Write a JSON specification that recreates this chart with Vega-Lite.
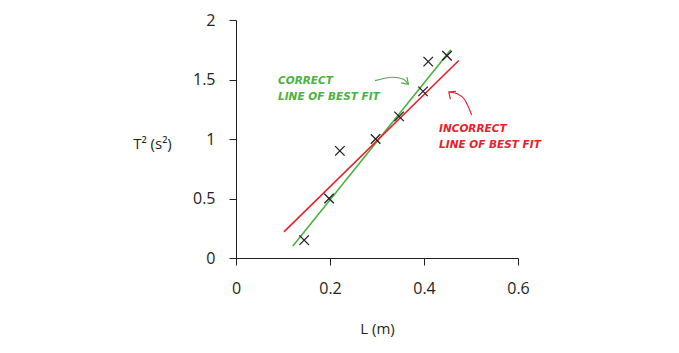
{
  "$schema": "https://vega.github.io/schema/vega-lite/v6.json",
  "autosize": "none",
  "width": 282,
  "height": 238,
  "padding": {"left": 236, "top": 20, "right": 161, "bottom": 95},
  "background": "white",
  "config": {"view": {"stroke": null}},
  "encoding": {
    "x": {"type": "quantitative", "scale": {"domain": [0, 0.6], "nice": false, "zero": false}},
    "y": {"type": "quantitative", "scale": {"domain": [0, 2], "nice": false, "zero": false}}
  },
  "layer": [
    {
      "data": {"values": [
        {"fit": "correct", "L": 0.121, "T2": 0.10},
        {"fit": "correct", "L": 0.457, "T2": 1.75},
        {"fit": "incorrect", "L": 0.102, "T2": 0.22},
        {"fit": "incorrect", "L": 0.474, "T2": 1.66}
      ]},
      "mark": {"type": "line", "strokeWidth": 1.6},
      "encoding": {
        "x": {"field": "L", "type": "quantitative",
          "axis": {"title": "L (m)", "values": [0, 0.2, 0.4, 0.6], "labelExpr": "datum.value + ''", "grid": false, "domainColor": "#231f20", "tickColor": "#231f20", "tickSize": 7, "labelPadding": 15, "labelFontSize": 16, "labelFont": "Open Sans", "labelColor": "#231f20", "titleFont": "Open Sans", "titleFontSize": 15, "titleFontWeight": "normal", "titleColor": "#231f20", "titleY": 70, "titleBaseline": "middle", "labelFlush": false}},
        "y": {"field": "T2", "type": "quantitative",
          "axis": {"title": "T² (s²)", "values": [0, 0.5, 1, 1.5, 2], "labelExpr": "datum.value + ''", "grid": false, "domainColor": "#231f20", "tickColor": "#231f20", "tickSize": 7, "labelPadding": 14, "labelFontSize": 16, "labelFont": "Open Sans", "labelColor": "#231f20", "titleFont": "Open Sans", "titleFontSize": 15, "titleFontWeight": "normal", "titleColor": "#231f20", "titleAngle": 0, "titleX": -84, "titleY": 123, "titleAlign": "center", "titleBaseline": "middle", "labelFlush": false}},
        "color": {"field": "fit", "type": "nominal", "scale": {"domain": ["correct", "incorrect"], "range": ["#4cb140", "#e8202a"]}, "legend": null},
        "order": {"field": "fit", "sort": "descending"}
      }
    },
    {
      "data": {"values": [
        {"L": 0.145, "T2": 0.15},
        {"L": 0.198, "T2": 0.5},
        {"L": 0.221, "T2": 0.9},
        {"L": 0.297, "T2": 1.0},
        {"L": 0.347, "T2": 1.19},
        {"L": 0.398, "T2": 1.40},
        {"L": 0.409, "T2": 1.65},
        {"L": 0.449, "T2": 1.70}
      ]},
      "mark": {"type": "point", "shape": "M-1,-1L1,1M-1,1L1,-1", "filled": false, "size": 90, "stroke": "#231f20", "strokeWidth": 1.3, "opacity": 1},
      "encoding": {
        "x": {"field": "L", "type": "quantitative"},
        "y": {"field": "T2", "type": "quantitative"}
      }
    },
    {
      "data": {"values": [
        {"a": "g", "o": 1, "L": 0.2957, "T2": 1.49},
        {"a": "g", "o": 2, "L": 0.3347, "T2": 1.519},
        {"a": "g", "o": 3, "L": 0.356, "T2": 1.502},
        {"a": "g", "o": 4, "L": 0.3667, "T2": 1.46},
        {"a": "r", "o": 1, "L": 0.5015, "T2": 1.202},
        {"a": "r", "o": 2, "L": 0.487, "T2": 1.328},
        {"a": "r", "o": 3, "L": 0.472, "T2": 1.378},
        {"a": "r", "o": 4, "L": 0.453, "T2": 1.395}
      ]},
      "mark": {"type": "line", "interpolate": "monotone", "strokeWidth": 1.2},
      "encoding": {
        "x": {"field": "L", "type": "quantitative"},
        "y": {"field": "T2", "type": "quantitative"},
        "detail": {"field": "a"},
        "order": {"field": "o"},
        "color": {"field": "a", "type": "nominal", "scale": {"domain": ["g", "r"], "range": ["#4cb140", "#e8202a"]}, "legend": null}
      }
    },
    {
      "data": {"values": [
        {"a": "g", "h": "g1", "o": 1, "L": 0.3638, "T2": 1.521},
        {"a": "g", "h": "g1", "o": 2, "L": 0.3667, "T2": 1.46},
        {"a": "g", "h": "g1", "o": 3, "L": 0.351, "T2": 1.471},
        {"a": "r", "h": "r1", "o": 1, "L": 0.468, "T2": 1.40},
        {"a": "r", "h": "r1", "o": 2, "L": 0.453, "T2": 1.395},
        {"a": "r", "h": "r1", "o": 3, "L": 0.456, "T2": 1.336}
      ]},
      "mark": {"type": "line", "strokeWidth": 1.2},
      "encoding": {
        "x": {"field": "L", "type": "quantitative"},
        "y": {"field": "T2", "type": "quantitative"},
        "detail": {"field": "h"},
        "order": {"field": "o"},
        "color": {"field": "a", "type": "nominal", "scale": {"domain": ["g", "r"], "range": ["#4cb140", "#e8202a"]}, "legend": null}
      }
    },
    {
      "data": {"values": [
        {"a": "g", "txt": "CORRECT", "L": 0.0894, "T2": 1.487},
        {"a": "g", "txt": "LINE OF BEST FIT", "L": 0.0894, "T2": 1.353},
        {"a": "r", "txt": "INCORRECT", "L": 0.432, "T2": 1.084},
        {"a": "r", "txt": "LINE OF BEST FIT", "L": 0.432, "T2": 0.95}
      ]},
      "mark": {"type": "text", "align": "left", "baseline": "middle", "font": "DejaVu Sans", "fontSize": 10.5, "fontWeight": "bold", "fontStyle": "italic"},
      "encoding": {
        "x": {"field": "L", "type": "quantitative"},
        "y": {"field": "T2", "type": "quantitative"},
        "text": {"field": "txt"},
        "color": {"field": "a", "type": "nominal", "scale": {"domain": ["g", "r"], "range": ["#4cb140", "#e8202a"]}, "legend": null}
      }
    }
  ]
}
